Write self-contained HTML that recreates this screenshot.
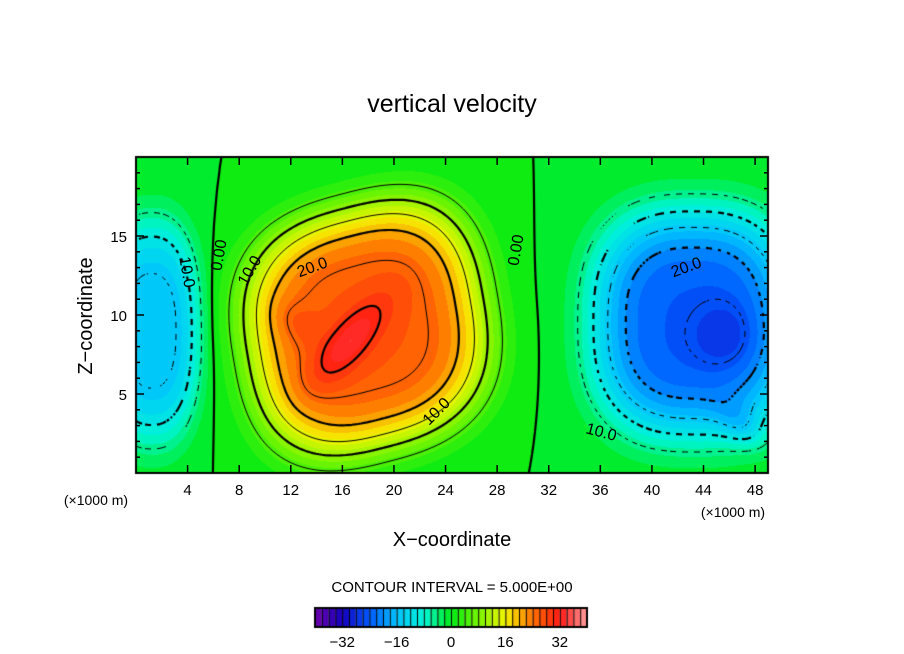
<!DOCTYPE html>
<html><head><meta charset="utf-8"><style>
body{margin:0;background:#fff;width:904px;height:654px;overflow:hidden;font-family:"Liberation Sans",sans-serif}
#wrap{position:relative;width:904px;height:654px}
canvas{position:absolute;left:0;top:0}
svg{position:absolute;left:0;top:0}
</style></head><body>
<div id="wrap">
<canvas id="cv" width="904" height="654"></canvas>
<svg id="sv" width="904" height="654"></svg>
</div>
<script>
// blob model of the vertical-velocity field (x in km, z in km)
const blobX     = [17.8, 16.6, 12.3, 43.2, 45.5, 1.2, 47.0];
const blobZ     = [9.2,  8.4,  9.5,  9.5,  8.8,  9.0, 3.0];
const blobAmp   = [26,   8,    2,   -24,  -4,  -16,  -5];
const blobSx    = [9.4,  3.6,  1.2,  8.0,  2.5,  3.8, 1.2];
const blobSz    = [7.8,  1.4,  2.0,  7.3,  2.0,  7.2, 2.0];
const blobRot   = [12,   42,   60,   0,    0,    0,   60];
const blobPow   = [2.4,  1,    1,    2.0,  1,    2.0, 1];
const blobShape = [2.7,  2,    2,    2.6,  2,    2.4, 2];
const cbTicks = [-32,-16,0,16,32];
const xTicks = [4,8,12,16,20,24,28,32,36,40,44,48];
const yTicks = [5,10,15];

const X0=136,X1=768,Y0=157,Y1=473, XMAX=49, ZMAX=20;
const sx=x=>X0+x*(X1-X0)/XMAX, sy=z=>Y1-z*(Y1-Y0)/ZMAX;
function field(x,z){
  let v=0;
  for(let i=0;i<blobX.length;i++){
    const a=blobRot[i]*Math.PI/180, dx=x-blobX[i], dz=z-blobZ[i];
    const u=(dx*Math.cos(a)+dz*Math.sin(a))/blobSx[i], w=(-dx*Math.sin(a)+dz*Math.cos(a))/blobSz[i];
    const q=blobShape[i], r2=Math.pow(Math.pow(Math.abs(u),q)+Math.pow(Math.abs(w),q),2/q);
    v+=blobAmp[i]*Math.exp(-Math.pow(r2,blobPow[i]));
  }
  return v;
}
const stops=[[-40,[110,0,170]],[-32,[20,0,190]],[-24,[0,90,255]],[-16,[0,195,255]],[-8,[0,245,215]],[0,[0,235,20]],[8,[120,245,0]],[16,[245,245,0]],[24,[255,110,0]],[32,[255,25,20]],[40,[255,160,160]]];
function col(v){
  v=Math.max(-40,Math.min(40,Math.floor(v/2)*2+1));
  for(let i=0;i<stops.length-1;i++){const a=stops[i],b=stops[i+1];
    if(v<=b[0]){const t=(v-a[0])/(b[0]-a[0]);return a[1].map((c,k)=>Math.round(c+(b[1][k]-c)*t));}}
  return stops[stops.length-1][1];
}
const cv=document.getElementById('cv'),ctx=cv.getContext('2d');
const W=X1-X0,H=Y1-Y0,img=ctx.createImageData(W,H);
for(let j=0;j<H;j++)for(let i=0;i<W;i++){
  const x=i*XMAX/W,z=(H-j)*ZMAX/H,c=col(field(x,z)),p=(j*W+i)*4;
  img.data[p]=c[0];img.data[p+1]=c[1];img.data[p+2]=c[2];img.data[p+3]=255;
}
ctx.putImageData(img,X0,Y0);
const S=3,nx=Math.ceil(W/S),nz=Math.ceil(H/S),F=[];
for(let j=0;j<=nz;j++){F[j]=[];for(let i=0;i<=nx;i++)F[j][i]=field(i*S*XMAX/W,ZMAX-j*S*ZMAX/H);}
ctx.save();ctx.beginPath();ctx.rect(X0,Y0,W,H);ctx.clip();
for(let L=-35;L<=35;L+=5){
  const thick=(L%10===0);ctx.lineWidth=thick?2.2:1;ctx.strokeStyle='#000';
  ctx.beginPath();
  for(let j=0;j<nz;j++)for(let i=0;i<nx;i++){
    if(L<0 && ((i+j)%4)>=2) continue;
    const v=[F[j][i],F[j][i+1],F[j+1][i+1],F[j+1][i]],pts=[];
    const c=[[0,0],[1,0],[1,1],[0,1]];
    for(let e=0;e<4;e++){const a=v[e],b=v[(e+1)%4];
      if((a<L)!==(b<L)){const t=(L-a)/(b-a),p=c[e],q=c[(e+1)%4];
        pts.push([X0+(i+p[0]+(q[0]-p[0])*t)*S,Y0+(j+p[1]+(q[1]-p[1])*t)*S]);}}
    for(let k=0;k+1<pts.length;k+=2){ctx.moveTo(pts[k][0],pts[k][1]);ctx.lineTo(pts[k+1][0],pts[k+1][1]);}
  }
  ctx.stroke();
}
ctx.restore();
const CB0=315,CB1=587,CBY=608,CBH=19;
for(let v=-40;v<40;v+=2){const c=col(v);ctx.fillStyle=`rgb(${c})`;
  const a=CB0+(v+40)/80*(CB1-CB0);ctx.fillRect(a,CBY,(CB1-CB0)/40,CBH);
  ctx.fillStyle='#000';ctx.fillRect(a,CBY,1,CBH);}
ctx.lineWidth=2;ctx.strokeStyle='#000';ctx.strokeRect(CB0,CBY,CB1-CB0,CBH);
ctx.strokeRect(X0,Y0,W,H);
const NS='http://www.w3.org/2000/svg',sv=document.getElementById('sv');
function T(x,y,txt,name,anchor,rot,size){const t=document.createElementNS(NS,'text');
  t.setAttribute('x',x);t.setAttribute('y',y);t.setAttribute('font-size',size||15);
  t.setAttribute('text-anchor',anchor||'middle');t.setAttribute('font-family','Liberation Sans, sans-serif');
  if(rot)t.setAttribute('transform',`rotate(${rot} ${x} ${y})`);
  t.textContent=txt;
  
  
  sv.appendChild(t);return t;}
function Ln(x1,y1,x2,y2,w){const l=document.createElementNS(NS,'line');
  l.setAttribute('x1',x1);l.setAttribute('y1',y1);l.setAttribute('x2',x2);l.setAttribute('y2',y2);
  l.setAttribute('stroke','#000');l.setAttribute('stroke-width',w||1.5);
  
  
  sv.appendChild(l);}
T(452,112,'vertical velocity','chart-title','middle',0,25);
xTicks.forEach(v=>{const x=sx(v);Ln(x,Y1,x,Y1-8);Ln(x,Y0,x,Y0+8);T(x,495,String(v),'x-tick-label');});
for(let z=1;z<20;z++){const y=sy(z),len=z%5===0?8:4;Ln(X0,y,X0+len,y);Ln(X1,y,X1-len,y);}
yTicks.forEach(v=>T(127,sy(v)+6,String(v),'y-tick-label','end'));
T(96,505,'(×1000 m)','x-unit-left','middle',0,14);
T(733,517,'(×1000 m)','x-unit-right','middle',0,14);
T(452,546,'X−coordinate','x-axis-title','middle',0,20);
T(92,316,'Z−coordinate','y-axis-title','middle',-90,20);
T(452,592,'CONTOUR INTERVAL = 5.000E+00','contour-interval-label','middle',0,15);
cbTicks.forEach(v=>T(CB0+(v+40)/80*(CB1-CB0),647,String(v).replace('-','−'),'colorbar-tick-label','middle',0,15));
T(224,256,'0.00','contour-label','middle',-80,16);
T(254,273,'10.0','contour-label','middle',-60,16);
T(314,272,'20.0','contour-label','middle',-20,16);
T(440,415,'10.0','contour-label','middle',-45,16);
T(521,251,'0.00','contour-label','middle',-80,16);
T(182,273,'10.0','contour-label','middle',80,16);
T(688,272,'20.0','contour-label','middle',-20,16);
T(600,437,'10.0','contour-label','middle',15,16);
</script>
</body></html>
